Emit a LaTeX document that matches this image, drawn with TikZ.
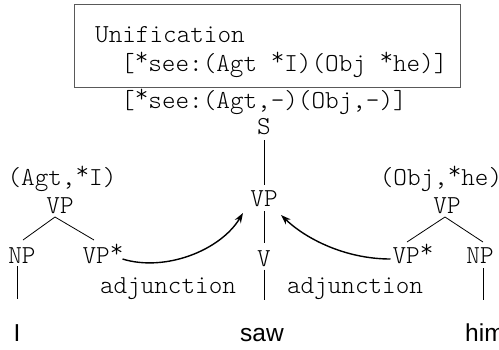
\documentclass[tikz,border=0pt]{standalone}
\usepackage{fontspec}
\newfontfamily\monof{Latin Modern Mono Light}
\newfontfamily\sansf{Liberation Sans}
\usetikzlibrary{arrows.meta,calc}
\newcommand\rstar{\raisebox{0.2em}{*}}
\tikzset{
  mono/.style={inner sep=0pt, anchor=base, font=\monof\fontsize{25.9pt}{30pt}\selectfont},
  word/.style={inner sep=0pt, anchor=base, font=\sansf\fontsize{24.5pt}{28pt}\selectfont},
  boxst/.style={draw=black!65, line width=0.9pt, inner sep=0pt},
  branch/.style={draw=black, line width=0.8pt},
  adjarrow/.style={draw=black, line width=1.4pt, -{Stealth[length=10pt,width=7pt]}}
}
\begin{document}
\begin{tikzpicture}[x=1pt,y=-1pt]
\useasboundingbox (0,0) rectangle (499,349);
% top box
\node[boxst, minimum width=386pt, minimum height=83pt, anchor=north west] (box) at (74,4) {};
\node[mono, anchor=base west] (uni) at (95,42.5) {Unification};
\node[mono, anchor=base west] (uni2) at (121,71) {[\rstar see:(Agt \rstar I)(Obj \rstar he)]};
\node[mono] (lab) at (264,108) {[\rstar see:(Agt,-)(Obj,-)]};
% centre tree
\node[mono] (S) at (264,134) {S};
\node[mono] (cVP) at (264,206) {VP};
\node[mono] (V) at (264,266) {V};
\node[word] (saw) at (262,341) {saw};
% left tree
\node[mono] (lAgt) at (62,185) {(Agt,\rstar I)};
\node[mono] (lVP) at (60,213) {VP};
\node[mono] (lNP) at (22,263) {NP};
\node[mono] (lVPs) at (103,263) {VP\rstar};
\node[word] (I) at (17,341) {I};
\node[mono] (ladj) at (168,293) {adjunction};
% right tree
\node[mono] (rObj) at (441,185) {(Obj,\rstar he)};
\node[mono] (rVP) at (447,213) {VP};
\node[mono] (rVPs) at (413,263) {VP\rstar};
\node[mono] (rNP) at (480,263) {NP};
\node[word, anchor=base west] (him) at (465,341) {him};
\node[mono] (radj) at (355,293) {adjunction};
% centre branches
\draw[branch] ($(S.base)+(0,6)$) -- ($(cVP.base)+(0,-21)$);
\draw[branch] ($(cVP.base)+(0,5)$) -- ($(V.base)+(0,-23)$);
\draw[branch] ($(V.base)+(0,3.5)$) -- ($(V.base)+(0,34)$);
% left branches
\draw[branch] ($(lNP.base)+(1,-23)$) -- ($(lVP.base)+(-5,4)$) -- ($(lVPs.base)+(-9,-23)$);
\draw[branch] ($(lNP.base -| I.base)+(0,3)$) -- ($(lNP.base -| I.base)+(0,36)$);
% right branches
\draw[branch] ($(rVPs.base)+(-6,-21)$) -- ($(rVP.base)+(-2,4)$) -- ($(rNP.base)+(3,-21)$);
\draw[branch] ($(rNP.base)+(3,5)$) -- ($(rNP.base)+(3,37)$);
% adjunction arrows
\draw[adjarrow] ($(lVPs.base)+(19.5,-4)$) .. controls +(42,13) and +(-23,38) .. ($(cVP.base)+(-21,7)$);
\draw[adjarrow] ($(rVPs.base)+(-22.5,-4)$) .. controls +(-45,0) and +(25,24) .. ($(cVP.base)+(17,9)$);
\end{tikzpicture}
\end{document}
